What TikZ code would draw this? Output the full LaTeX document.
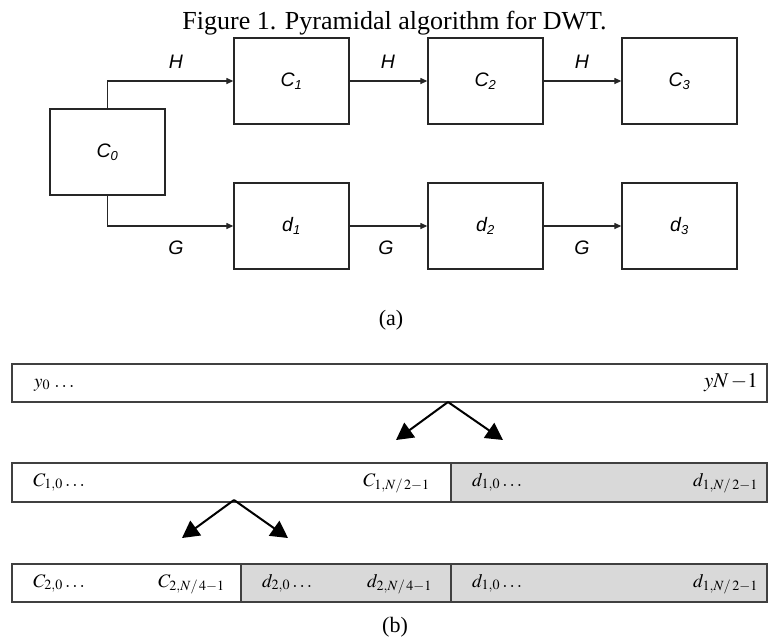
\documentclass[tikz,border=0pt]{standalone}
\usepackage{mathptmx}
\usepackage[no-math]{fontspec}
\setmainfont{Liberation Serif}
\setsansfont{Liberation Sans}
\usetikzlibrary{arrows.meta}
\definecolor{cellgray}{HTML}{D9D9D9}
\definecolor{edgegray}{HTML}{404040}
\tikzset{
  blk/.style={draw=black!85, line width=1.3pt, minimum width=115pt, minimum height=86pt, inner sep=0pt,
    font=\fontsize{19.5}{22}\selectfont\sffamily\itshape},
  conn/.style={draw=black!85, line width=1.2pt, -{Triangle[length=7pt,width=6pt]}},
  lab/.style={font=\fontsize{19.5}{22}\selectfont\sffamily\itshape, inner sep=0pt},
  cell/.style={draw=edgegray, line width=1.2pt, inner sep=0pt, outer sep=0pt, anchor=north west},
  txt/.style={font=\fontsize{19}{22}\selectfont, inner sep=0pt},
  barrow/.style={line width=2pt, -{Triangle[length=17pt,width=18pt]}},
  captxt/.style={font=\fontsize{22}{26}\selectfont, inner sep=0pt}
}
\newcommand{\sbx}[1]{\textsubscript{\fontsize{13}{15}\selectfont #1}}
\begin{document}
\begin{tikzpicture}[x=1pt,y=-1pt]
\useasboundingbox (0,0) rectangle (768,641);
% title
\node[font=\fontsize{26}{30}\selectfont, inner sep=0pt, anchor=base] (title) at (394.5,29) {Figure 1. Pyramidal algorithm for DWT.};
% part (a)
\node[blk] (C0) at (107.5,152) {C\sbx{0}};
\node[blk] (C1) at (291.5,81) {C\sbx{1}};
\node[blk] (C2) at (485.5,81) {C\sbx{2}};
\node[blk] (C3) at (679.5,81) {C\sbx{3}};
\node[blk] (d1) at (291.5,226) {d\sbx{1}};
\node[blk] (d2) at (485.5,226) {d\sbx{2}};
\node[blk] (d3) at (679.5,226) {d\sbx{3}};
\draw[conn] (C0.north) |- (C1.west);
\draw[conn] (C0.south) |- (d1.west);
\draw[conn] (C1) -- (C2);
\draw[conn] (C2) -- (C3);
\draw[conn] (d1) -- (d2);
\draw[conn] (d2) -- (d3);
\node[lab] (h1) at (176,62) {H};
\node[lab] (h2) at (388,62) {H};
\node[lab] (h3) at (582,62) {H};
\node[lab] (g1) at (176,248) {G};
\node[lab] (g2) at (386,248) {G};
\node[lab] (g3) at (582,248) {G};
\node[captxt] (capa) at (391,320) {(a)};
% part (b)
\node[cell, minimum width=755pt, minimum height=38pt] (r1) at (12,364) {};
\node[cell, fill=white, minimum width=439pt, minimum height=39pt] (r2a) at (12,463) {};
\node[cell, fill=cellgray, minimum width=316pt, minimum height=39pt] (r2b) at (451,463) {};
\node[cell, fill=white, minimum width=229pt, minimum height=38pt] (r3a) at (12,564) {};
\node[cell, fill=cellgray, minimum width=210pt, minimum height=38pt] (r3b) at (241,564) {};
\node[cell, fill=cellgray, minimum width=316pt, minimum height=38pt] (r3c) at (451,564) {};
% texts
\node[txt, anchor=base west] (t1a) at (34,387) {$y_0\,\ldots$};
\node[txt, font=\fontsize{21}{24}\selectfont, anchor=base east] (t1b) at (758,387) {$yN\,{-}1$};
\node[txt, anchor=base west] (t2a) at (33,486) {$C_{1,0}\ldots$};
\node[txt, anchor=base west] (t2b) at (363,486) {$C_{1,N/\,2-1}$};
\node[txt, anchor=base west] (t2c) at (472,486) {$d_{1,0}\ldots$};
\node[txt, anchor=base east] (t2d) at (758,486) {$d_{1,N/\,2-1}$};
\node[txt, anchor=base west] (t3a) at (33,587) {$C_{2,0}\ldots$};
\node[txt, anchor=base west] (t3b) at (158,587) {$C_{2,N/\,4-1}$};
\node[txt, anchor=base west] (t3c) at (262,587) {$d_{2,0}\ldots$};
\node[txt, anchor=base west] (t3d) at (367,587) {$d_{2,N/\,4-1}$};
\node[txt, anchor=base west] (t3e) at (472,587) {$d_{1,0}\ldots$};
\node[txt, anchor=base east] (t3f) at (758,587) {$d_{1,N/\,2-1}$};
% arrows
\coordinate (ap1) at (448,402);
\coordinate (ap1l) at (396,440);
\coordinate (ap1r) at (503,440);
\coordinate (ap2) at (234,500);
\coordinate (ap2l) at (182,538);
\coordinate (ap2r) at (288,538);
\draw[barrow] (ap1) -- (ap1l);
\draw[barrow] (ap1) -- (ap1r);
\draw[barrow] (ap2) -- (ap2l);
\draw[barrow] (ap2) -- (ap2r);
\node[captxt] (capb) at (395,627) {(b)};
\end{tikzpicture}
\end{document}
